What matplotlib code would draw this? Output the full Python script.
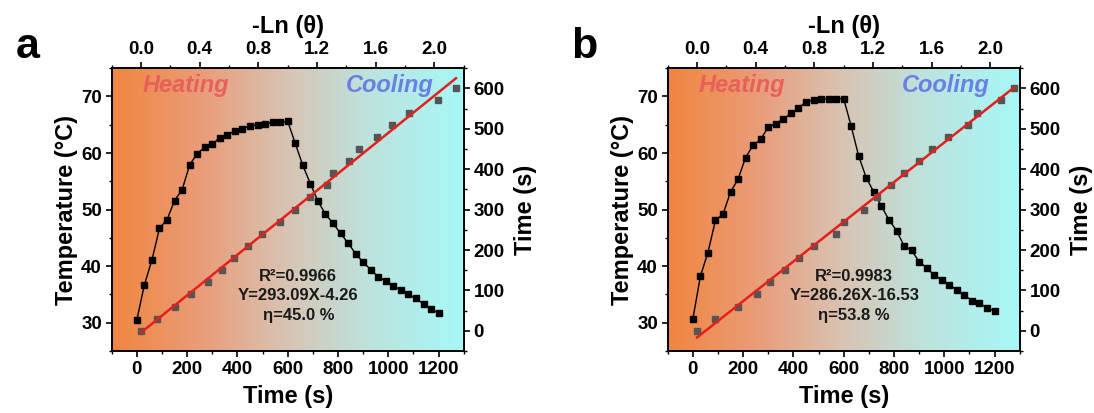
import numpy as np
import matplotlib
matplotlib.use("Agg")
import matplotlib.pyplot as plt
from matplotlib.colors import LinearSegmentedColormap
from matplotlib.ticker import MultipleLocator

plt.rcParams["font.family"] = ["Liberation Sans", "DejaVu Sans"]
plt.rcParams["font.weight"] = "bold"
plt.rcParams["axes.labelweight"] = "bold"

# irradiation on 0-600 s, laser off 600-1200 s
time_s = [0, 30, 60, 90, 120, 150, 180, 210, 240, 270, 300, 330, 360, 390,
          420, 450, 480, 510, 540, 570, 600, 630, 660, 690, 720, 750, 780,
          810, 840, 870, 900, 930, 960, 990, 1020, 1050, 1080, 1110, 1140,
          1170, 1200]
temp_a = [30.5, 36.7, 41.1, 46.7, 48.2, 51.6, 53.5, 57.9, 59.9, 61.0,
          61.6, 62.7, 63.2, 63.9, 64.3, 64.8, 65.0, 65.2, 65.4, 65.4,
          65.6,
          61.7, 57.8, 54.6, 51.5, 49.2, 47.6, 45.8, 44.1, 42.2, 40.7,
          39.4, 38.1, 37.4, 36.5, 35.8, 35.0, 34.3, 33.3, 32.4, 31.7]
temp_b = [30.6, 38.2, 42.4, 48.1, 49.2, 53.1, 55.4, 59.2, 61.4, 62.4,
          64.6, 65.2, 66.0, 67.0, 67.9, 69.1, 69.3, 69.5, 69.5, 69.6,
          69.6,
          64.7, 59.4, 55.6, 53.1, 50.6, 48.2, 46.3, 43.6, 42.8, 40.8,
          39.7, 38.4, 37.6, 36.7, 35.8, 34.9, 33.9, 33.5, 32.6, 32.1]

# cooling period: time vs -ln(theta)
cool_time_s = [0, 30, 60, 90, 120, 150, 180, 210, 240, 270, 300, 330, 360,
               390, 420, 450, 480, 510, 540, 570, 600]
neg_ln_theta_a = [0.0, 0.109, 0.229, 0.340, 0.456, 0.554, 0.631, 0.731,
                  0.824, 0.949, 1.051, 1.149, 1.267, 1.312, 1.421, 1.489,
                  1.612, 1.710, 1.830, 2.027, 2.147]
neg_ln_theta_b = [0.0, 0.121, 0.279, 0.406, 0.495, 0.597, 0.695, 0.797,
                  0.945, 1.001, 1.136, 1.229, 1.324, 1.410, 1.512, 1.601,
                  1.710, 1.846, 1.910, 2.069, 2.160]

fit_a = (293.09, -4.26)
fit_b = (286.26, -16.53)
stats_a = ("0.9966", "45.0")
stats_b = ("0.9983", "53.8")

bg_cmap = LinearSegmentedColormap.from_list(
    "heat_cool",
    [(0.0, "#F08640"), (0.25, "#EA9C78"), (0.5, "#D8C4B4"),
     (0.72, "#BEE2DC"), (1.0, "#A6F8F8")])

TICK_FS = 13.5
LABEL_FS = 17


def style_ticks(ax):
    ax.tick_params(which="major", direction="out", length=4.5, width=1.2,
                   labelsize=TICK_FS, pad=2.5)
    ax.tick_params(which="minor", direction="out", length=2.5, width=1.0)
    for s in ax.spines.values():
        s.set_linewidth(1.2)


def draw_panel(fig, rect, letter, temp, neg_ln, fit, stats):
    ax = fig.add_axes(rect)
    xlim, ylim = (-100, 1300), (25, 75)
    ax.imshow(np.linspace(0, 1, 512)[None, :], cmap=bg_cmap, aspect="auto",
              extent=(xlim[0], xlim[1], ylim[0], ylim[1]), zorder=0)
    ax.plot(time_s, temp, "-s", color="black", ms=5, lw=1.0, zorder=3)
    ax.set_xlim(*xlim)
    ax.set_ylim(*ylim)
    ax.xaxis.set_major_locator(MultipleLocator(200))
    ax.xaxis.set_minor_locator(MultipleLocator(100))
    ax.yaxis.set_major_locator(MultipleLocator(10))
    ax.yaxis.set_minor_locator(MultipleLocator(5))
    ax.set_xlabel("Time (s)", fontsize=LABEL_FS, labelpad=5.5)
    ax.set_ylabel("Temperature (°C)", fontsize=LABEL_FS, labelpad=2)
    style_ticks(ax)

    ax2 = fig.add_axes(rect, facecolor="none")
    ax2.plot(neg_ln, cool_time_s, "s", color="#555555", ms=5, zorder=2)
    slope, icpt = fit
    fx = np.array([min(neg_ln), max(neg_ln)])
    ax2.plot(fx, slope * fx + icpt, color="#E5201C", lw=1.8, zorder=3)
    ax2.set_xlim(-0.2, 2.2)
    ax2.set_ylim(-50, 650)
    ax2.xaxis.set_major_locator(MultipleLocator(0.4))
    ax2.xaxis.set_minor_locator(MultipleLocator(0.2))
    ax2.yaxis.set_major_locator(MultipleLocator(100))
    ax2.yaxis.set_minor_locator(MultipleLocator(50))
    ax2.xaxis.set_major_formatter(lambda v, p: f"{v:.1f}")
    ax2.xaxis.tick_top()
    ax2.xaxis.set_label_position("top")
    ax2.yaxis.tick_right()
    ax2.yaxis.set_label_position("right")
    ax2.set_xlabel("-Ln (θ)", fontsize=LABEL_FS, labelpad=6)
    ax2.set_ylabel("Time (s)", fontsize=LABEL_FS, labelpad=7)
    style_ticks(ax2)

    ax2.text(0.088, 0.94, "Heating", transform=ax2.transAxes, color="#E8605A",
             fontsize=17, style="italic", weight="bold", ha="left", va="center")
    ax2.text(0.914, 0.94, "Cooling", transform=ax2.transAxes, color="#6A7FE6",
             fontsize=17, style="italic", weight="bold", ha="right", va="center")
    r2, eta = stats
    sign = "-" if icpt < 0 else "+"
    txt = f"R²={r2}\nY={slope:.2f}X{sign}{abs(icpt):.2f}\nη={eta} %"
    ax2.text(0.53, 0.195, txt, transform=ax2.transAxes, fontsize=12,
             weight="bold", ha="center", va="center", linespacing=1.35,
             color="#1a1a1a")

    fig.text(rect[0] - 0.088, 0.86, letter, fontsize=31, weight="bold",
             ha="left", va="baseline")
    return ax, ax2


fig = plt.figure(figsize=(10.94, 4.13), dpi=100)
draw_panel(fig, [0.1021, 0.150, 0.3218, 0.685], "a", temp_a, neg_ln_theta_a,
           fit_a, stats_a)
draw_panel(fig, [0.6103, 0.150, 0.3218, 0.685], "b", temp_b, neg_ln_theta_b,
           fit_b, stats_b)
fig.savefig("out.png", dpi=100)
